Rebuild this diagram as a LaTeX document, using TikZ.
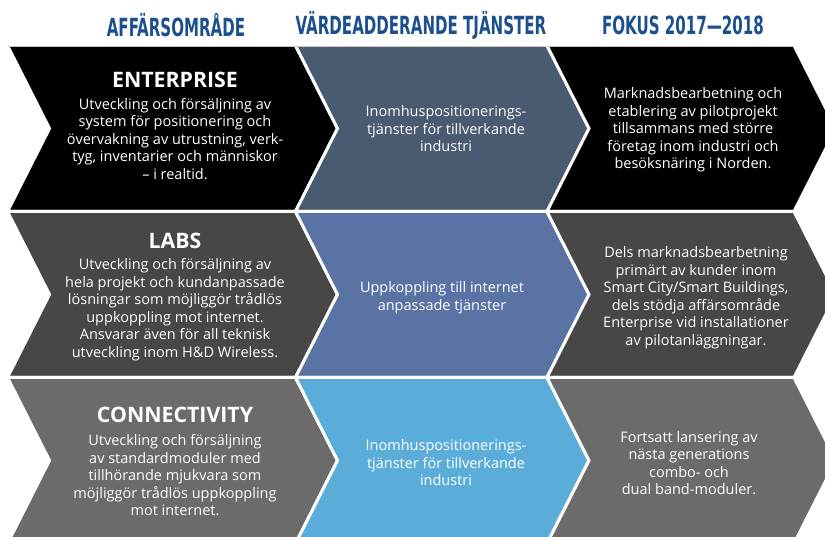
\documentclass[tikz,border=0pt]{standalone}
\usepackage{fontspec}
\setmainfont{Open Sans}
\newfontfamily\headfont[FakeStretch=0.67]{DejaVu Sans Condensed}
\usetikzlibrary{positioning}
\definecolor{headblue}{RGB}{28,79,141}
\definecolor{entslate}{RGB}{74,90,112}
\definecolor{labsgray}{RGB}{71,71,69}
\definecolor{labsblue}{RGB}{91,114,164}
\definecolor{congray}{RGB}{107,107,107}
\definecolor{conblue}{RGB}{90,173,216}

% chevron: left, top, right, colour
\newcommand{\chevron}[4]{%
  \filldraw[fill=#4, draw=white, line width=3pt, line join=miter]
    (#1,#2) -- (#3,#2) -- ++(42,83) -- ++(-42,83) -- (#1,#2+166) -- ++(42,-83) -- cycle;
}

\begin{document}
\begin{tikzpicture}[x=1pt, y=-1pt,
  head/.style={font=\headfont\bfseries\fontsize{25}{25}\selectfont, text=headblue, inner sep=0pt},
  title/.style={font=\bfseries\fontsize{21.3}{24}\selectfont, text=white, inner sep=0pt},
  body/.style={font=\fontsize{14.5}{17.5}\selectfont, text=white, align=center, inner sep=0pt},
]
  \useasboundingbox (0,0) rectangle (825,537);
  \clip (0,0) rectangle (825,537);

  % Chevrons
  \chevron{7.5}{45.5}{295.5}{black}
  \chevron{295.5}{45.5}{547}{entslate}
  \chevron{547}{45.5}{794}{black}
  \chevron{7.5}{211.5}{295.5}{labsgray}
  \chevron{295.5}{211.5}{547}{labsblue}
  \chevron{547}{211.5}{794}{labsgray}
  \chevron{7.5}{377.5}{295.5}{congray}
  \chevron{295.5}{377.5}{547}{conblue}
  \chevron{547}{377.5}{794}{congray}
  \draw[gray!45, line width=0.8pt] (7.5,46.3) -- (794,46.3);

  % Column headings
  \node[head] (hdArea) at (176,25.5) {AFFÄRSOMRÅDE};
  \node[head] (hdValue) at (421,25.5) {VÄRDEADDERANDE TJÄNSTER};
  \node[head] (hdFocus) at (683,25.5) {FOKUS 2017—2018};

  % Enterprise
  \node[title] (entT) at (175,80) {ENTERPRISE};
  \node[body] (entB) at (175,139) {Utveckling och försäljning av\\system för positionering och\\övervakning av utrustning, verk-\\tyg, inventarier och människor\\– i realtid.};
  \node[body] (entV) at (446,129) {Inomhuspositionerings-\\tjänster för tillverkande\\industri};
  \node[body] (entF) at (693,130) {Marknadsbearbetning och\\etablering av pilotprojekt\\tillsammans med större\\företag inom industri och\\besöksnäring i Norden.};

  % Labs
  \node[title] (labsT) at (175,241) {LABS};
  \node[body] (labsB) at (175,309.5) {Utveckling och försäljning av\\hela projekt och kundanpassade\\lösningar som möjliggör trådlös\\uppkoppling mot internet.\\Ansvarar även för all teknisk\\utveckling inom H\&D Wireless.};
  \node[body] (labsV) at (442,297.5) {Uppkoppling till internet\\anpassade tjänster};
  \node[body] (labsF) at (696,297.5) {Dels marknadsbearbetning\\primärt av kunder inom\\Smart City/Smart Buildings,\\dels stödja affärsområde\\Enterprise vid installationer\\av pilotanläggningar.};

  % Connectivity
  \node[title] (conT) at (175,415) {CONNECTIVITY};
  \node[body] (conB) at (175,475.5) {Utveckling och försäljning\\av standardmoduler med\\tillhörande mjukvara som\\möjliggör trådlös uppkoppling\\mot internet.};
  \node[body] (conV) at (446,463) {Inomhuspositionerings-\\tjänster för tillverkande\\industri};
  \node[body] (conF) at (689,463) {Fortsatt lansering av\\nästa generations\\combo- och\\dual band-moduler.};
\end{tikzpicture}
\end{document}
